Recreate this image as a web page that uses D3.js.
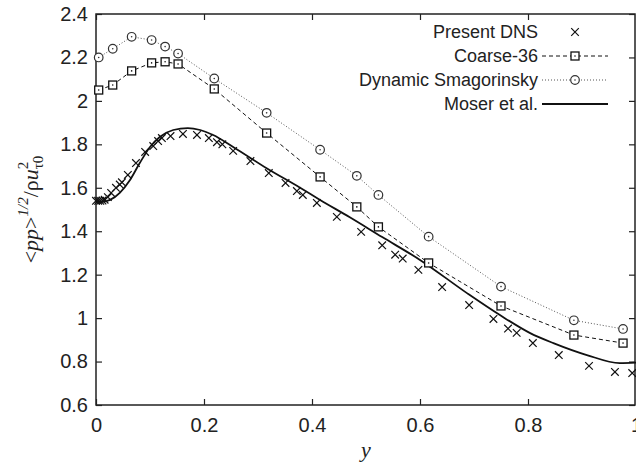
<!DOCTYPE html>
<html>
<head>
<meta charset="utf-8">
<script src="https://cdn.jsdelivr.net/npm/d3@7"></script>
<style>
  html, body { margin: 0; padding: 0; background: #fff; }
  svg { display: block; }
  .tick-label { font-family: "Liberation Sans", Arial, sans-serif; font-size: 20px; fill: #222; }
  .legend-label { font-family: "Liberation Sans", Arial, sans-serif; font-size: 18px; fill: #222; }
  .axis-title { font-family: "Liberation Serif", "Times New Roman", serif; fill: #222; }
</style>
</head>
<body>
<div id="chart"></div>
<script>
// y positions shared by Coarse-36 and Dynamic Smagorinsky
const lesY = [0.005, 0.031, 0.066, 0.103, 0.128, 0.152, 0.219, 0.316, 0.415, 0.483, 0.523, 0.616, 0.75, 0.885, 0.976];
const coarse36 = [2.05, 2.073, 2.138, 2.175, 2.18, 2.17, 2.055, 1.852, 1.65, 1.512, 1.42, 1.254, 1.056, 0.922, 0.885];
const dynSmag = [2.20, 2.24, 2.295, 2.28, 2.25, 2.218, 2.103, 1.945, 1.775, 1.655, 1.567, 1.375, 1.145, 0.99, 0.95];

const dnsY = [0.0, 0.004, 0.008, 0.012, 0.016, 0.022, 0.028, 0.037, 0.044, 0.048, 0.059, 0.074, 0.091, 0.106,
  0.115, 0.122, 0.138, 0.161, 0.187, 0.209, 0.224, 0.234, 0.254, 0.286, 0.320, 0.351, 0.372, 0.383, 0.409,
  0.446, 0.491, 0.53, 0.554, 0.568, 0.597, 0.641, 0.691, 0.736, 0.763, 0.779, 0.809, 0.857, 0.913, 0.961, 0.993];
const dnsP = [1.54, 1.54, 1.54, 1.541, 1.545, 1.557, 1.576, 1.6, 1.615, 1.625, 1.659, 1.714, 1.765, 1.792,
  1.815, 1.829, 1.838, 1.848, 1.843, 1.829, 1.81, 1.80, 1.77, 1.723, 1.668, 1.622, 1.585, 1.567, 1.53,
  1.466, 1.397, 1.335, 1.292, 1.274, 1.222, 1.143, 1.06, 0.996, 0.952, 0.932, 0.885, 0.83, 0.78, 0.752, 0.747];

const moserY = [0, 0.01, 0.026, 0.044, 0.063, 0.081, 0.1, 0.118, 0.143, 0.17, 0.193, 0.217, 0.254, 0.316,
  0.378, 0.415, 0.47, 0.53, 0.6, 0.687, 0.748, 0.804, 0.847, 0.909, 0.97, 1.0];
const moserP = [1.54, 1.535, 1.544, 1.577, 1.636, 1.714, 1.788, 1.834, 1.866, 1.875, 1.866, 1.843, 1.788, 1.69,
  1.6, 1.544, 1.464, 1.373, 1.268, 1.115, 1.014, 0.931, 0.885, 0.83, 0.793, 0.795];

const xTicks = [0, 0.2, 0.4, 0.6, 0.8, 1];
const yTicks = [0.6, 0.8, 1, 1.2, 1.4, 1.6, 1.8, 2, 2.2, 2.4];
const legendNames = ['Present DNS', 'Coarse-36', 'Dynamic Smagorinsky', 'Moser et al.'];

const width = 636, height = 466;
const margin = { top: 14, right: 0, bottom: 61, left: 96 };
const INK = '#222';

const svg = d3.select('#chart').append('svg')
  .attr('width', width)
  .attr('height', height);

const x = d3.scaleLinear().domain([0, 1]).range([margin.left, width - margin.right]);
const y = d3.scaleLinear().domain([0.6, 2.4]).range([height - margin.bottom, margin.top]);

// inward ticks on all four sides
const tickLen = 6;
svg.append('g')
  .attr('transform', `translate(0,${y(0.6)})`)
  .call(d3.axisBottom(x).tickValues(xTicks).tickSize(-tickLen).tickPadding(12)
    .tickFormat(d => d3.format('')(d)))
  .call(g => g.select('.domain').remove())
  .call(g => g.selectAll('line').attr('stroke', INK).attr('stroke-width', 1.2))
  .call(g => g.selectAll('text').attr('class', 'tick-label').attr('fill', null).attr('font-size', null)
    .attr('font-family', null).attr('dy', '0.75em'));

svg.append('g')
  .attr('transform', `translate(0,${y(2.4)})`)
  .call(d3.axisTop(x).tickValues(xTicks).tickSize(-tickLen).tickFormat(''))
  .call(g => g.select('.domain').remove())
  .call(g => g.selectAll('line').attr('stroke', INK).attr('stroke-width', 1.2));

svg.append('g')
  .attr('transform', `translate(${x(0)},0)`)
  .call(d3.axisLeft(y).tickValues(yTicks).tickSize(-tickLen).tickPadding(8)
    .tickFormat(d => d3.format('')(d)))
  .call(g => g.select('.domain').remove())
  .call(g => g.selectAll('line').attr('stroke', INK).attr('stroke-width', 1.2))
  .call(g => g.selectAll('text').attr('class', 'tick-label').attr('fill', null).attr('font-size', null)
    .attr('font-family', null));

svg.append('g')
  .attr('transform', `translate(${x(1) - 1},0)`)
  .call(d3.axisRight(y).tickValues(yTicks).tickSize(-tickLen).tickFormat(''))
  .call(g => g.select('.domain').remove())
  .call(g => g.selectAll('line').attr('stroke', INK).attr('stroke-width', 1.2));

// border
svg.append('rect')
  .attr('x', x(0)).attr('y', y(2.4))
  .attr('width', x(1) - x(0) - 1).attr('height', y(0.6) - y(2.4))
  .attr('fill', 'none').attr('stroke', INK).attr('stroke-width', 1.5);

// Moser et al. reference curve
const smooth = d3.line().x(d => x(d[0])).y(d => y(d[1])).curve(d3.curveMonotoneX);
svg.append('path')
  .datum(moserY.map((v, i) => [v, moserP[i]]))
  .attr('fill', 'none').attr('stroke', '#111').attr('stroke-width', 1.8)
  .attr('d', smooth);

const straight = d3.line().x(d => x(d[0])).y(d => y(d[1]));

// Coarse-36
svg.append('path')
  .datum(lesY.map((v, i) => [v, coarse36[i]]))
  .attr('fill', 'none').attr('stroke', '#111').attr('stroke-width', 1)
  .attr('stroke-dasharray', '4,3')
  .attr('d', straight);

// Dynamic Smagorinsky
svg.append('path')
  .datum(lesY.map((v, i) => [v, dynSmag[i]]))
  .attr('fill', 'none').attr('stroke', '#555').attr('stroke-width', 1)
  .attr('stroke-dasharray', '1,2')
  .attr('d', straight);

function drawSquare(g, cx, cy) {
  g.append('rect').attr('x', cx - 4).attr('y', cy - 4).attr('width', 8).attr('height', 8)
    .attr('fill', '#fff').attr('stroke', '#111').attr('stroke-width', 1.3);
  g.append('circle').attr('cx', cx).attr('cy', cy).attr('r', 0.8).attr('fill', '#111');
}
function drawCircle(g, cx, cy) {
  g.append('circle').attr('cx', cx).attr('cy', cy).attr('r', 4.3)
    .attr('fill', '#fff').attr('stroke', '#333').attr('stroke-width', 1.2);
  g.append('circle').attr('cx', cx).attr('cy', cy).attr('r', 0.8).attr('fill', '#333');
}
function drawCross(g, cx, cy) {
  const s = 3.8;
  g.append('path')
    .attr('d', `M${cx - s},${cy - s}L${cx + s},${cy + s}M${cx - s},${cy + s}L${cx + s},${cy - s}`)
    .attr('stroke', '#111').attr('stroke-width', 1.2).attr('fill', 'none');
}

const marks = svg.append('g');
lesY.forEach((v, i) => drawSquare(marks, x(v), y(coarse36[i])));
lesY.forEach((v, i) => drawCircle(marks, x(v), y(dynSmag[i])));
dnsY.forEach((v, i) => drawCross(marks, x(v), y(dnsP[i])));

// legend
const legend = svg.append('g');
const legX = 538, sx0 = 542, sx1 = 608, rowY = [32, 56, 80, 104];
legendNames.forEach((name, i) => {
  legend.append('text').attr('class', 'legend-label')
    .attr('x', legX).attr('y', rowY[i]).attr('dy', '0.35em')
    .attr('text-anchor', 'end').text(name);
});
const mid = (sx0 + sx1) / 2;
drawCross(legend, mid, rowY[0]);
legend.append('line').attr('x1', sx0).attr('x2', sx1).attr('y1', rowY[1]).attr('y2', rowY[1])
  .attr('stroke', '#111').attr('stroke-width', 1).attr('stroke-dasharray', '4,3');
drawSquare(legend, mid, rowY[1]);
legend.append('line').attr('x1', sx0).attr('x2', sx1).attr('y1', rowY[2]).attr('y2', rowY[2])
  .attr('stroke', '#555').attr('stroke-width', 1).attr('stroke-dasharray', '1,2');
drawCircle(legend, mid, rowY[2]);
legend.append('line').attr('x1', sx0).attr('x2', sx1).attr('y1', rowY[3]).attr('y2', rowY[3])
  .attr('stroke', '#111').attr('stroke-width', 1.8);

// x axis title
svg.append('text').attr('class', 'axis-title')
  .attr('x', (x(0) + x(1)) / 2).attr('y', 457)
  .attr('text-anchor', 'middle')
  .style('font-size', '22px').style('font-style', 'italic')
  .text('y');

// y axis title: <pp>^{1/2}/ρu_τ0^2
const yt = svg.append('text').attr('class', 'axis-title')
  .attr('transform', `translate(38,${(y(0.6) + y(2.4)) / 2}) rotate(-90)`)
  .attr('text-anchor', 'middle')
  .style('font-size', '22px');
yt.append('tspan').text('<');
yt.append('tspan').style('font-style', 'italic').text('pp');
yt.append('tspan').text('>');
yt.append('tspan').style('font-style', 'italic').style('font-size', '15px').attr('dy', -10).text('1/2');
yt.append('tspan').attr('dy', 10).text('/ρ');
yt.append('tspan').style('font-style', 'italic').text('u');
yt.append('tspan').style('font-size', '15px').attr('dy', -10).text('2');
yt.append('tspan').style('font-size', '15px').attr('dx', -7.5).attr('dy', 15).text('τ0');
</script>
</body>
</html>
